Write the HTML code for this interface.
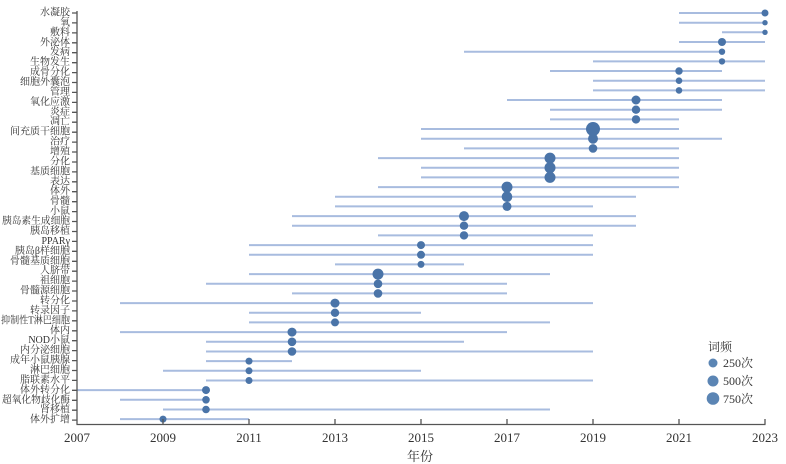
<!DOCTYPE html>
<html><head><meta charset="utf-8"><style>
html,body{margin:0;padding:0;background:#fff;}
svg{display:block;}
text{font-family:"Liberation Serif","Noto Serif CJK SC","Noto Sans CJK SC",serif;fill:#333;}
</style></head><body>
<svg width="786" height="464" viewBox="0 0 786 464" xmlns="http://www.w3.org/2000/svg">
<g stroke="#a8bcdf" stroke-width="2">
<line x1="679" y1="13" x2="765" y2="13"/>
<line x1="679" y1="22.7" x2="765" y2="22.7"/>
<line x1="722" y1="32.3" x2="765" y2="32.3"/>
<line x1="679" y1="42" x2="765" y2="42"/>
<line x1="464" y1="51.7" x2="722" y2="51.7"/>
<line x1="593" y1="61.4" x2="765" y2="61.4"/>
<line x1="550" y1="71" x2="722" y2="71"/>
<line x1="593" y1="80.7" x2="765" y2="80.7"/>
<line x1="593" y1="90.4" x2="765" y2="90.4"/>
<line x1="507" y1="100" x2="722" y2="100"/>
<line x1="550" y1="109.7" x2="722" y2="109.7"/>
<line x1="550" y1="119.4" x2="679" y2="119.4"/>
<line x1="421" y1="129" x2="679" y2="129"/>
<line x1="421" y1="138.7" x2="722" y2="138.7"/>
<line x1="464" y1="148.4" x2="679" y2="148.4"/>
<line x1="378" y1="158.1" x2="679" y2="158.1"/>
<line x1="421" y1="167.7" x2="679" y2="167.7"/>
<line x1="421" y1="177.4" x2="679" y2="177.4"/>
<line x1="378" y1="187.1" x2="679" y2="187.1"/>
<line x1="335" y1="196.7" x2="636" y2="196.7"/>
<line x1="335" y1="206.4" x2="593" y2="206.4"/>
<line x1="292" y1="216.1" x2="636" y2="216.1"/>
<line x1="292" y1="225.7" x2="636" y2="225.7"/>
<line x1="378" y1="235.4" x2="593" y2="235.4"/>
<line x1="249" y1="245.1" x2="593" y2="245.1"/>
<line x1="249" y1="254.8" x2="593" y2="254.8"/>
<line x1="335" y1="264.4" x2="464" y2="264.4"/>
<line x1="249" y1="274.1" x2="550" y2="274.1"/>
<line x1="206" y1="283.8" x2="507" y2="283.8"/>
<line x1="292" y1="293.4" x2="507" y2="293.4"/>
<line x1="120" y1="303.1" x2="593" y2="303.1"/>
<line x1="249" y1="312.8" x2="421" y2="312.8"/>
<line x1="249" y1="322.4" x2="550" y2="322.4"/>
<line x1="120" y1="332.1" x2="507" y2="332.1"/>
<line x1="206" y1="341.8" x2="464" y2="341.8"/>
<line x1="206" y1="351.5" x2="593" y2="351.5"/>
<line x1="206" y1="361.1" x2="292" y2="361.1"/>
<line x1="163" y1="370.8" x2="421" y2="370.8"/>
<line x1="206" y1="380.5" x2="593" y2="380.5"/>
<line x1="77" y1="390.1" x2="206" y2="390.1"/>
<line x1="120" y1="399.8" x2="206" y2="399.8"/>
<line x1="163" y1="409.5" x2="550" y2="409.5"/>
<line x1="120" y1="419.1" x2="249" y2="419.1"/>
</g>
<g fill="#4a74a8">
<circle cx="765" cy="13" r="3.5"/>
<circle cx="765" cy="22.7" r="2.7"/>
<circle cx="765" cy="32.3" r="2.7"/>
<circle cx="722" cy="42" r="4"/>
<circle cx="722" cy="51.7" r="3.2"/>
<circle cx="722" cy="61.4" r="3.2"/>
<circle cx="679" cy="71" r="3.7"/>
<circle cx="679" cy="80.7" r="3.3"/>
<circle cx="679" cy="90.4" r="3.3"/>
<circle cx="636" cy="100" r="4.5"/>
<circle cx="636" cy="109.7" r="4.2"/>
<circle cx="636" cy="119.4" r="4.2"/>
<circle cx="593" cy="129" r="7"/>
<circle cx="593" cy="138.7" r="5"/>
<circle cx="593" cy="148.4" r="4.3"/>
<circle cx="550" cy="158.1" r="5.5"/>
<circle cx="550" cy="167.7" r="5.5"/>
<circle cx="550" cy="177.4" r="5.5"/>
<circle cx="507" cy="187.1" r="5.5"/>
<circle cx="507" cy="196.7" r="5.3"/>
<circle cx="507" cy="206.4" r="4.5"/>
<circle cx="464" cy="216.1" r="5"/>
<circle cx="464" cy="225.7" r="4.2"/>
<circle cx="464" cy="235.4" r="4.2"/>
<circle cx="421" cy="245.1" r="4"/>
<circle cx="421" cy="254.8" r="4"/>
<circle cx="421" cy="264.4" r="3.5"/>
<circle cx="378" cy="274.1" r="5.5"/>
<circle cx="378" cy="283.8" r="4.3"/>
<circle cx="378" cy="293.4" r="4.3"/>
<circle cx="335" cy="303.1" r="4.5"/>
<circle cx="335" cy="312.8" r="4.2"/>
<circle cx="335" cy="322.4" r="4"/>
<circle cx="292" cy="332.1" r="4.5"/>
<circle cx="292" cy="341.8" r="4.3"/>
<circle cx="292" cy="351.5" r="4.3"/>
<circle cx="249" cy="361.1" r="3.5"/>
<circle cx="249" cy="370.8" r="3.5"/>
<circle cx="249" cy="380.5" r="3.5"/>
<circle cx="206" cy="390.1" r="4"/>
<circle cx="206" cy="399.8" r="3.8"/>
<circle cx="206" cy="409.5" r="3.8"/>
<circle cx="163" cy="419.1" r="3.5"/>
</g>
<g stroke="#555" stroke-width="1.3" fill="none">
<line x1="77" y1="11" x2="77" y2="424.5"/>
<line x1="76.5" y1="424.5" x2="765.5" y2="424.5"/>
<path d="M72 13H77M72 22.9H77M72 32.9H77M72 42.8H77M72 52.7H77M72 62.7H77M72 72.6H77M72 82.5H77M72 92.4H77M72 102.4H77M72 112.3H77M72 122.2H77M72 132.2H77M72 142.1H77M72 152H77M72 162H77M72 171.9H77M72 181.8H77M72 191.7H77M72 201.7H77M72 211.6H77M72 221.5H77M72 231.5H77M72 241.4H77M72 251.3H77M72 261.3H77M72 271.2H77M72 281.1H77M72 291H77M72 301H77M72 310.9H77M72 320.8H77M72 330.8H77M72 340.7H77M72 350.6H77M72 360.6H77M72 370.5H77M72 380.4H77M72 390.3H77M72 400.3H77M72 410.2H77M72 420.1H77"/>
<path d="M163 424.5V419M249 424.5V419M335 424.5V419M421 424.5V419M507 424.5V419M593 424.5V419M679 424.5V419M765 424.5V419"/>
</g>
<g font-size="10" text-anchor="end" dominant-baseline="central">
<text x="70" y="13">水凝胶</text>
<text x="70" y="22.9">氧</text>
<text x="70" y="32.9">敷料</text>
<text x="70" y="42.8">外泌体</text>
<text x="70" y="52.7">发病</text>
<text x="70" y="62.7">生物发生</text>
<text x="70" y="72.6">成骨分化</text>
<text x="70" y="82.5">细胞外囊泡</text>
<text x="70" y="92.4">管理</text>
<text x="70" y="102.4">氧化应激</text>
<text x="70" y="112.3">炎症</text>
<text x="70" y="122.2">凋亡</text>
<text x="70" y="132.2">间充质干细胞</text>
<text x="70" y="142.1">治疗</text>
<text x="70" y="152">增殖</text>
<text x="70" y="162">分化</text>
<text x="70" y="171.9">基质细胞</text>
<text x="70" y="181.8">表达</text>
<text x="70" y="191.7">体外</text>
<text x="70" y="201.7">骨髓</text>
<text x="70" y="211.6">小鼠</text>
<text x="70" y="221.5" textLength="68" lengthAdjust="spacingAndGlyphs">胰岛素生成细胞</text>
<text x="70" y="231.5">胰岛移植</text>
<text x="70" y="241.4">PPARγ</text>
<text x="70" y="251.3">胰岛β样细胞</text>
<text x="70" y="261.3">骨髓基质细胞</text>
<text x="70" y="271.2">人脐带</text>
<text x="70" y="281.1">祖细胞</text>
<text x="70" y="291">骨髓源细胞</text>
<text x="70" y="301">转分化</text>
<text x="70" y="310.9">转录因子</text>
<text x="70" y="320.8" textLength="69" lengthAdjust="spacingAndGlyphs">抑制性T淋巴细胞</text>
<text x="70" y="330.8">体内</text>
<text x="70" y="340.7">NOD小鼠</text>
<text x="70" y="350.6">内分泌细胞</text>
<text x="70" y="360.6">成年小鼠胰腺</text>
<text x="70" y="370.5">淋巴细胞</text>
<text x="70" y="380.4">脂联素水平</text>
<text x="70" y="390.3">体外转分化</text>
<text x="70" y="400.3" textLength="68" lengthAdjust="spacingAndGlyphs">超氧化物歧化酶</text>
<text x="70" y="410.2">肾移植</text>
<text x="70" y="420.1">体外扩增</text>
</g>
<g font-size="13" text-anchor="middle">
<text x="77" y="442">2007</text>
<text x="163" y="442">2009</text>
<text x="249" y="442">2011</text>
<text x="335" y="442">2013</text>
<text x="421" y="442">2015</text>
<text x="507" y="442">2017</text>
<text x="593" y="442">2019</text>
<text x="679" y="442">2021</text>
<text x="765" y="442">2023</text>
<text x="420" y="461">年份</text>
</g>
<g font-size="12" dominant-baseline="central">
<text x="708" y="347">词频</text>
<circle cx="713" cy="363" r="4.5" fill="#5b85b4"/>
<circle cx="713" cy="381" r="5.5" fill="#5b85b4"/>
<circle cx="713" cy="398.5" r="6.3" fill="#5b85b4"/>
<text x="723" y="363">250次</text>
<text x="723" y="381">500次</text>
<text x="723" y="399">750次</text>
</g>
</svg>
</body></html>
